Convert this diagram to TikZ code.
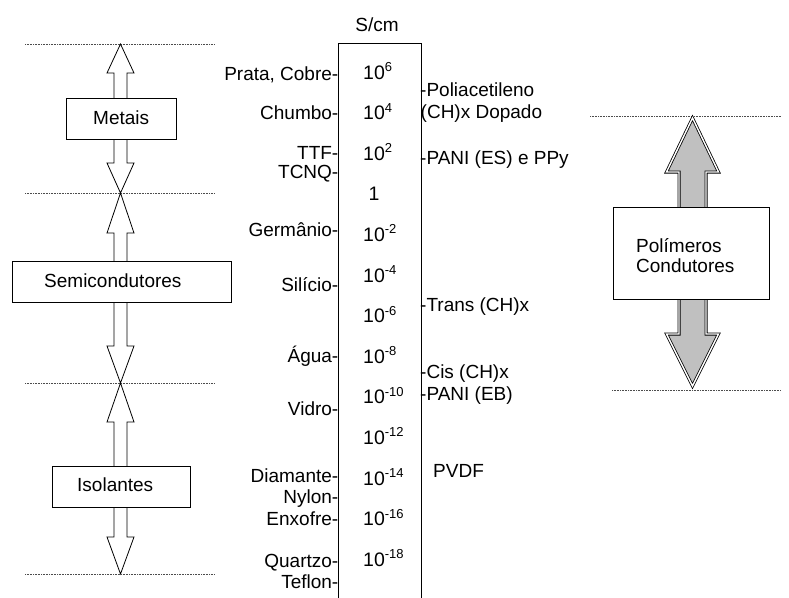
\documentclass[tikz,border=0pt]{standalone}
\usepackage{fontspec}
\setmainfont{Liberation Sans}
\definecolor{fillgray}{RGB}{192,192,192}
\newcommand\pw[1]{10\raisebox{7.5pt}{\fontsize{13}{13}\selectfont #1}}
\newcommand\larrow[4]{\draw[arrline] (#1-6.5,#2) -- (#1-6.5,#3) -- (#1-13.5,#3) -- (#1,#4) -- (#1+13.5,#3) -- (#1+6.5,#3) -- (#1+6.5,#2);}
\tikzset{
  txt/.style={inner sep=0pt, font=\fontsize{19}{21}\selectfont},
  valtxt/.style={inner sep=0pt, font=\fontsize{19.5}{21}\selectfont},
  boxnode/.style={draw, line width=1pt, fill=white, inner sep=0pt},
  arrline/.style={draw, line width=0.8pt, line join=miter},
  dotline/.style={line width=0.7pt, black!70, dash pattern=on 0.8pt off 0.8pt},
}
\begin{document}
\begin{tikzpicture}[x=1pt,y=-1pt]
\useasboundingbox (0,0) rectangle (789,597);

% dotted levels
\draw[dotline] (25,44) -- (214,44);
\draw[dotline] (25,193) -- (214,193);
\draw[dotline] (25,383) -- (214,383);
\draw[dotline] (25,574) -- (214,574);
\draw[dotline] (590,116) -- (781,116);
\draw[dotline] (612,390) -- (781,390);

% left arrows
\larrow{120.5}{98}{73}{44}
\larrow{120.5}{139}{163}{193}
\larrow{120.5}{261}{233}{193}
\larrow{120.5}{302}{346}{383}
\larrow{120.5}{466}{422}{383}
\larrow{120.5}{507}{537}{574}

% left boxes
\node[boxnode, minimum width=110, minimum height=41] (metais) at (121,118.5) {};
\node[txt, anchor=base west] (metaisT) at (93,124) {Metais};
\node[boxnode, minimum width=219, minimum height=41] (semi) at (121.5,281.5) {};
\node[txt, anchor=base west] (semiT) at (44,287) {Semicondutores};
\node[boxnode, minimum width=138, minimum height=41] (iso) at (121,486.5) {};
\node[txt, anchor=base west] (isoT) at (77,491) {Isolantes};

% right arrow
\draw[line width=0.8pt, double=white, double distance=1.4pt, fill=fillgray, line join=miter]
  (679,210) -- (679,172) -- (666.5,172) -- (692.5,118) -- (718.5,172) -- (706,172) -- (706,210) -- cycle;
\draw[line width=0.8pt, double=white, double distance=1.4pt, fill=fillgray, line join=miter]
  (679,296) -- (679,334) -- (666.5,334) -- (692.5,386) -- (718.5,334) -- (706,334) -- (706,296) -- cycle;
\node[boxnode, minimum width=156, minimum height=92] (poly) at (691,253) {};
\node[txt, anchor=base west] (polyT1) at (636,252) {Polímeros};
\node[txt, anchor=base west] (polyT2) at (636,272) {Condutores};

% column
\node[draw, line width=0.9pt, inner sep=0pt, minimum width=83.2, minimum height=580, anchor=north west] (col) at (337.5,43) {};
\node[txt, anchor=base] (unit) at (377,31) {S/cm};

% values
\node[valtxt, anchor=base west] (v0) at (363,79) {\pw{6}};
\node[valtxt, anchor=base west] (v1) at (363,119.6) {\pw{4}};
\node[valtxt, anchor=base west] (v2) at (363,160.2) {\pw{2}};
\node[valtxt, anchor=base] (v3) at (374,200.8) {1};
\node[valtxt, anchor=base west] (v4) at (363,241.4) {\pw{-2}};
\node[valtxt, anchor=base west] (v5) at (363,282) {\pw{-4}};
\node[valtxt, anchor=base west] (v6) at (363,322.6) {\pw{-6}};
\node[valtxt, anchor=base west] (v7) at (363,363.2) {\pw{-8}};
\node[valtxt, anchor=base west] (v8) at (363,403.8) {\pw{-10}};
\node[valtxt, anchor=base west] (v9) at (363,444.4) {\pw{-12}};
\node[valtxt, anchor=base west] (v10) at (363,485) {\pw{-14}};
\node[valtxt, anchor=base west] (v11) at (363,525.6) {\pw{-16}};
\node[valtxt, anchor=base west] (v12) at (363,566.2) {\pw{-18}};

% left labels
\node[txt, anchor=base east] (l1) at (338.5,80) {Prata, Cobre-};
\node[txt, anchor=base east] (l2) at (338.5,119) {Chumbo-};
\node[txt, anchor=base east] (l3) at (338.5,159) {TTF-};
\node[txt, anchor=base east] (l4) at (338.5,178) {TCNQ-};
\node[txt, anchor=base east] (l5) at (338.5,236) {Germânio-};
\node[txt, anchor=base east] (l6) at (338.5,291) {Silício-};
\node[txt, anchor=base east] (l7) at (338.5,362) {Água-};
\node[txt, anchor=base east] (l8) at (338.5,415) {Vidro-};
\node[txt, anchor=base east] (l9) at (338.5,482) {Diamante-};
\node[txt, anchor=base east] (l10) at (338.5,503) {Nylon-};
\node[txt, anchor=base east] (l11) at (338.5,525) {Enxofre-};
\node[txt, anchor=base east] (l12) at (338.5,567) {Quartzo-};
\node[txt, anchor=base east] (l13) at (338.5,588) {Teflon-};

% right labels
\node[txt, anchor=base west] (r1) at (420,96) {-Poliacetileno};
\node[txt, anchor=base west] (r2) at (420.5,118) {(CH)x Dopado};
\node[txt, anchor=base west] (r3) at (420,164) {-PANI (ES) e PPy};
\node[txt, anchor=base west] (r4) at (420,311) {-Trans (CH)x};
\node[txt, anchor=base west] (r5) at (420,378) {-Cis (CH)x};
\node[txt, anchor=base west] (r6) at (420,400) {-PANI (EB)};
\node[txt, anchor=base west] (r7) at (433,477) {PVDF};
\end{tikzpicture}
\end{document}
